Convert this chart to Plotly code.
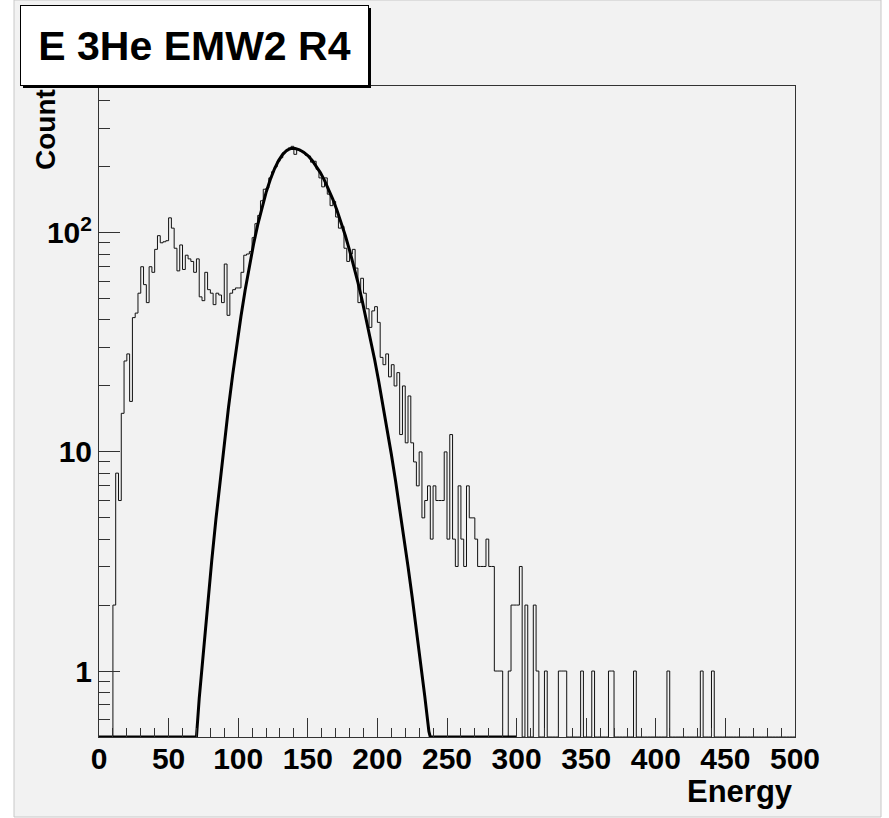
import plotly.graph_objects as go

# ---------------- data ----------------
bin_width = 2
energy_start = 0
counts = [
    0, 0, 0, 0, 0, 2, 8, 6, 15, 26,
    28, 17, 41, 43, 53, 70, 58, 48, 70, 66,
    84, 97, 90, 91, 92, 117, 105, 85, 67, 88,
    68, 79, 76, 74, 66, 76, 51, 49, 66, 55,
    53, 47, 53, 52, 48, 72, 42, 53, 55, 56,
    56, 66, 79, 80, 82, 95, 110, 120, 140, 158,
    160, 178, 190, 200, 212, 220, 232, 236, 244, 248,
    228, 240, 236, 232, 226, 224, 210, 212, 195, 178,
    162, 178, 150, 133, 139, 118, 105, 107, 85, 74,
    80, 84, 69, 48, 62, 53, 45, 37, 44, 46,
    39, 27, 25, 28, 22, 25, 20, 23, 12, 20,
    11, 18, 11, 9, 7, 10, 5, 6, 7, 4,
    7, 6, 6, 6, 10, 4, 12, 4, 3, 7,
    4, 3, 7, 5, 5, 4, 3, 3, 3, 4,
    3, 3, 1, 1, 1, 0, 0, 1, 2, 2,
    2, 3, 0, 2, 0, 0, 2, 1, 0, 0,
    1, 0, 0, 0, 0, 1, 1, 1, 0, 0,
    0, 0, 0, 1, 0, 0, 0, 1, 0, 0,
    0, 0, 0, 1, 1, 0, 0, 0, 0, 0,
    0, 0, 1, 0, 0, 0, 0, 0, 0, 0,
    0, 0, 0, 0, 1, 0, 0, 0, 0, 0,
    0, 0, 0, 0, 0, 0, 1, 0, 0, 0,
    1, 0, 0, 0, 0, 0, 0, 0, 0, 0,
    0, 0, 0, 0, 0, 0, 0, 0, 0, 0,
    0, 0, 0, 0, 0, 0, 0, 0, 0, 0,
]

# fitted curve, sampled points (values below the frame floor shown at the floor)
fit_energy = [0, 70, 72, 75, 78, 81, 84, 87, 90, 93, 96, 99, 102, 105, 108, 111,
              114, 117, 120, 123, 126, 129, 132, 135, 138, 141, 144, 147, 150,
              153, 156, 159, 162, 165, 168, 171, 174, 177, 180, 183, 186, 189,
              192, 195, 198, 201, 204, 207, 210, 213, 216, 219, 222, 225, 228,
              231, 234, 237, 238, 300]
fit_value = [0.5, 0.5, 0.75, 1.24, 2.01, 3.19, 4.93, 7.45, 11.0, 15.9, 22.4,
             30.9, 41.6, 54.8, 70.4, 88.5, 108.6, 130.2, 152.6, 174.7, 195.4,
             213.6, 228.1, 238.0, 242.7, 242.4, 239.2, 233.3, 225.0, 214.4,
             202.1, 188.3, 173.4, 157.9, 142.1, 126.4, 111.2, 96.9, 83.2, 70.7,
             59.4, 49.3, 40.5, 32.9, 26.4, 20.9, 16.4, 12.7, 9.77, 7.40, 5.54,
             4.10, 3.00, 2.17, 1.55, 1.10, 0.77, 0.53, 0.5, 0.5]

x_major = [0, 50, 100, 150, 200, 250, 300, 350, 400, 450, 500]
x_major_text = ["0", "50", "100", "150", "200", "250", "300", "350", "400", "450", "500"]
x_minor = [v for v in range(10, 500, 10) if v % 50 != 0]
y_major = [1, 10, 100]
y_major_text = ["1", "10", "10<sup>2</sup>"]
y_minor = [0.6, 0.7, 0.8, 0.9, 2, 3, 4, 5, 6, 7, 8, 9, 20, 30, 40, 50, 60, 70, 80, 90, 200, 300, 400]

title_text = "E 3He EMW2 R4"
x_title = "Energy"
y_title = "Counts"

# ---------------- figure ----------------
y_floor = 0.5
W, H = 889, 818
L, R, T, B = 99, 94, 86, 81
pw, ph = W - L - R, H - T - B

def px_x(p):
    return (p - L) / pw

def px_y(p):
    return (H - B - p) / ph

edges = [energy_start + i * bin_width for i in range(len(counts) + 1)]
step_y = [max(c, y_floor) for c in counts] + [max(counts[-1], y_floor)]

bg = "#f2f2f2"
font_family = "Liberation Sans, Arial, Helvetica, sans-serif"

fig = go.Figure()
fig.add_trace(go.Scatter(x=edges, y=step_y, mode="lines", line_shape="hv",
                         line=dict(color="#111111", width=1), hoverinfo="skip",
                         showlegend=False))
fig.add_trace(go.Scatter(x=fit_energy, y=fit_value, mode="lines",
                         line=dict(color="black", width=3), hoverinfo="skip",
                         showlegend=False))

axis_common = dict(showline=True, mirror=True, linecolor="#333333", linewidth=1,
                   ticks="inside", tickcolor="#333333", tickwidth=1,
                   showgrid=False, zeroline=False,
                   tickfont=dict(family=font_family, size=30, color="black", weight="bold"))

fig.update_xaxes(range=[0, 500], tickmode="array", tickvals=x_major, ticktext=x_major_text,
                 ticklen=19, ticklabelstandoff=-5,
                 minor=dict(tickmode="array", tickvals=x_minor, ticks="inside", ticklen=9,
                            tickcolor="#333333", showgrid=False),
                 **axis_common)
fig.update_yaxes(type="log", range=[-0.30103, 2.6698], tickmode="array",
                 tickvals=y_major, ticktext=y_major_text, ticklen=21,
                 minor=dict(tickmode="array", tickvals=y_minor, ticks="inside", ticklen=11,
                            tickcolor="#333333", showgrid=False),
                 **axis_common)

annotations = [
    dict(text=y_title, textangle=-90, showarrow=False, xref="paper", yref="paper",
         x=px_x(46), y=px_y(172), xanchor="center", yanchor="bottom",
         font=dict(family=font_family, size=28, color="black", weight="bold")),
    dict(text=x_title, showarrow=False, xref="paper", yref="paper",
         x=px_x(795), y=px_y(791), xanchor="right", yanchor="middle",
         font=dict(family=font_family, size=31, color="black", weight="bold")),
    dict(text=title_text, showarrow=False, xref="paper", yref="paper",
         x=px_x(20), y=px_y(5), xanchor="left", yanchor="top",
         width=347, height=79, bgcolor="white", bordercolor="black", borderwidth=1,
         borderpad=0, align="center", valign="middle",
         font=dict(family=font_family, size=41, color="black", weight="bold")),
]

shapes = [
    dict(type="rect", xref="paper", yref="paper",
         x0=px_x(14), x1=px_x(881), y0=px_y(817), y1=px_y(0),
         fillcolor=bg, line=dict(color="#c8c8c8", width=1), layer="below"),
    # shadow of the title box
    dict(type="rect", xref="paper", yref="paper",
         x0=px_x(23), x1=px_x(371), y0=px_y(88), y1=px_y(8),
         fillcolor="black", line=dict(width=0), layer="above"),
]

fig.update_layout(
    width=W, height=H, autosize=False,
    margin=dict(l=L, r=R, t=T, b=B),
    paper_bgcolor="white", plot_bgcolor=bg,
    showlegend=False,
    shapes=shapes,
    annotations=annotations,
)

fig.write_html("out.html")
